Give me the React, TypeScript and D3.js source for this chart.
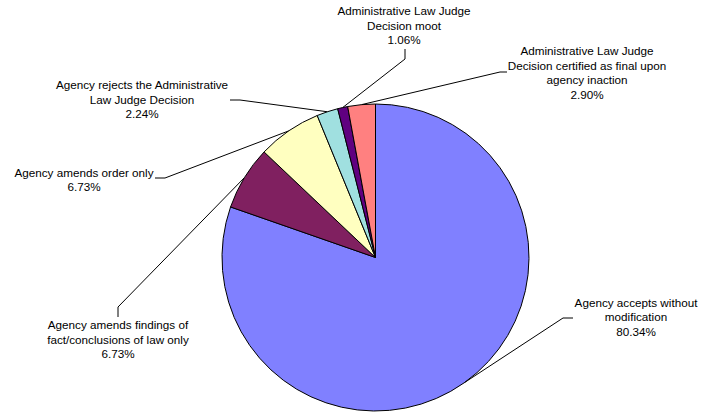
import React, { useEffect, useRef } from "react";
import * as d3 from "d3";

// Chart data
const categories = [
  "Agency accepts without modification",
  "Agency amends findings of fact/conclusions of law only",
  "Agency amends order only",
  "Agency rejects the Administrative Law Judge Decision",
  "Administrative Law Judge Decision moot",
  "Administrative Law Judge Decision certified as final upon agency inaction",
];
const shares = [80.34, 6.73, 6.73, 2.24, 1.06, 2.9];
const shareLabels = ["80.34%", "6.73%", "6.73%", "2.24%", "1.06%", "2.90%"];
const labelLines = [
  ["Agency accepts without", "modification"],
  ["Agency amends findings of", "fact/conclusions of law only"],
  ["Agency amends order only"],
  ["Agency rejects the Administrative", "Law Judge Decision"],
  ["Administrative Law Judge", "Decision moot"],
  ["Administrative Law Judge", "Decision certified as final upon", "agency inaction"],
];
const colors = ["#8080FF", "#802060", "#FFFFC0", "#A0E0E0", "#600080", "#FF8080"];

// Label layout (text centre, first baseline, leader elbow & tail)
const labelLayout = [
  { x: 636, y: 306.5, elbow: [563, 318], tail: [573, 318] },
  { x: 118, y: 329, elbow: [118, 307], tail: [118, 317] },
  { x: 84, y: 176.5, elbow: [165, 178], tail: [155, 178] },
  { x: 142, y: 89, elbow: [240, 100], tail: [230, 100] },
  { x: 404, y: 15, elbow: [405, 59], tail: [405, 49] },
  { x: 587, y: 55, elbow: [500, 72], tail: [507, 72] },
];

const WIDTH = 711;
const HEIGHT = 415;

export default function App() {
  const svgRef = useRef<SVGSVGElement>(null);

  useEffect(() => {
    document.body.style.margin = "0";
    if (!svgRef.current) return;
    const svg = d3.select(svgRef.current);
    svg.selectAll("*").remove();

    const cx = 375.5;
    const cy = 257.5;
    const r = 153.5;
    const lineHeight = 14.5;

    const pie = d3.pie<number>().sort(null).value(d => d);
    const arcs = pie(shares);
    const arc = d3.arc<d3.PieArcDatum<number>>().innerRadius(0).outerRadius(r);
    const edge = d3.arc<d3.PieArcDatum<number>>().innerRadius(r).outerRadius(r);

    const g = svg.append("g").attr("transform", `translate(${cx},${cy})`);

    g.selectAll("path.slice")
      .data(arcs)
      .enter()
      .append("path")
      .attr("class", "slice")
      .attr("d", arc)
      .attr("fill", (_d, i) => colors[i])
      .attr("stroke", "#000")
      .attr("stroke-width", 1)
      .attr("stroke-linejoin", "round");

    // Leader lines
    arcs.forEach((a, i) => {
      const [ex, ey] = edge.centroid(a);
      const lay = labelLayout[i];
      const pts: [number, number][] = [
        [cx + ex, cy + ey],
        [lay.elbow[0], lay.elbow[1]],
        [lay.tail[0], lay.tail[1]],
      ];
      svg.append("path")
        .attr("d", d3.line()(pts))
        .attr("fill", "none")
        .attr("stroke", "#000")
        .attr("stroke-width", 1);
    });

    // Labels
    labelLayout.forEach((lay, i) => {
      const lines = [...labelLines[i], shareLabels[i]];
      const text = svg.append("text")
        .attr("text-anchor", "middle")
        .attr("font-family", "'Liberation Sans', Arial, sans-serif")
        .attr("font-size", "11.7px")
        .attr("fill", "#000")
        .attr("aria-label", categories[i]);
      lines.forEach((ln, j) => {
        text.append("tspan")
          .attr("x", lay.x)
          .attr("y", lay.y + j * lineHeight)
          .text(ln);
      });
    });
  }, []);

  return <svg ref={svgRef} width={WIDTH} height={HEIGHT} style={{ display: "block", background: "#fff" }} />;
}
